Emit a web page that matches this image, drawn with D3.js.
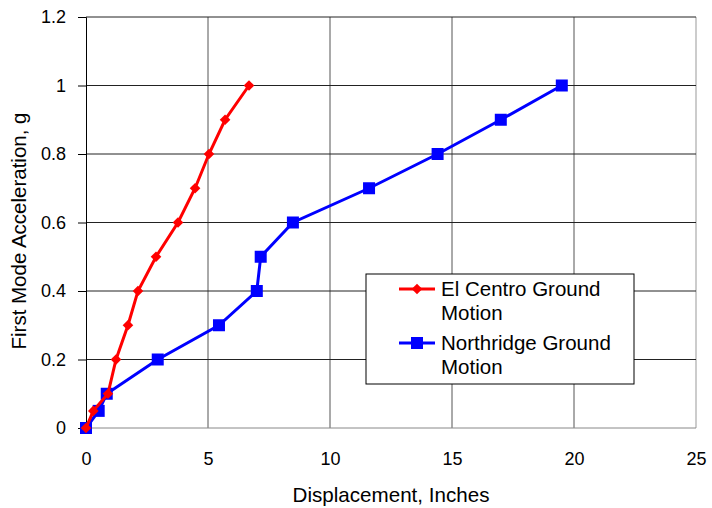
<!DOCTYPE html>
<html>
<head>
<meta charset="utf-8">
<script src="https://cdn.jsdelivr.net/npm/d3@7"></script>
<style>
  body { margin: 0; background: #fff; }
  svg { font-family: Arial, "Liberation Sans", sans-serif; }
</style>
</head>
<body>
<div id="graphContainer"></div>
<script>
// values
var elCentroDisp = [0, 0.3, 0.9, 1.23, 1.72, 2.13, 2.87, 3.77, 4.47, 5.04, 5.7, 6.68];
var elCentroAcc  = [0, 0.05, 0.1, 0.2, 0.3, 0.4, 0.5, 0.6, 0.7, 0.8, 0.9, 1.0];
var northDisp = [0, 0.52, 0.85, 2.94, 5.45, 7.0, 7.16, 8.48, 11.6, 14.41, 17.0, 19.5];
var northAcc  = [0, 0.05, 0.1, 0.2, 0.3, 0.4, 0.5, 0.6, 0.7, 0.8, 0.9, 1.0];
var xTicks = [0, 5, 10, 15, 20, 25];
var yTicks = [0, 0.2, 0.4, 0.6, 0.8, 1, 1.2];
var seriesNames = [["El Centro Ground", "Motion"], ["Northridge Ground", "Motion"]];

var width = 712, height = 508;
// plot box edges (px)
var padL = 86, padR = 696, padT = 17, padB = 428;

var svg = d3.select("#graphContainer")
    .append("svg")
    .attr("width", width)
    .attr("height", height);

var xScale = d3.scaleLinear().domain([0, 25]).range([padL, padR]);
var yScale = d3.scaleLinear().domain([0, 1.2]).range([padB, padT]);

// grid lines
svg.append("g").selectAll("line")
    .data(xTicks.slice(1))
    .join("line")
    .attr("x1", d => xScale(d)).attr("x2", d => xScale(d))
    .attr("y1", padT).attr("y2", padB)
    .attr("stroke", d => d == 25 ? "#999" : "#555")
    .attr("stroke-width", 1);

svg.append("g").selectAll("line")
    .data(yTicks)
    .join("line")
    .attr("x1", padL).attr("x2", padR)
    .attr("y1", d => yScale(d)).attr("y2", d => yScale(d))
    .attr("stroke", d => d == 0 ? "#888" : "#222")
    .attr("stroke-width", 1);

// y axis
var y = d3.axisLeft(yScale).tickValues(yTicks).tickSize(8).tickPadding(12)
    .tickFormat(d3.format("~g"));
svg.append("g")
    .attr("id", "y-axis")
    .attr("transform", `translate(${padL}, 0)`)
    .call(y);
d3.select("#y-axis").selectAll("text")
    .attr("font-size", 18).attr("font-family", "Arial").attr("fill", "#000");
d3.select("#y-axis").select(".domain").attr("stroke", "#000");

// x axis (labels only)
var x = d3.axisBottom(xScale).tickValues(xTicks).tickSize(0).tickPadding(24);
svg.append("g")
    .attr("id", "x-axis")
    .attr("transform", `translate(0, ${padB})`)
    .call(x);
d3.select("#x-axis").select(".domain").remove();
d3.select("#x-axis").selectAll("text")
    .attr("font-size", 18).attr("font-family", "Arial").attr("fill", "#000");

// axis titles
svg.append("text")
    .attr("x", 391)
    .attr("y", 502)
    .attr("text-anchor", "middle")
    .attr("font-size", 20.6)
    .text("Displacement, Inches");
svg.append("text")
    .attr("transform", "translate(26, 231) rotate(-90)")
    .attr("text-anchor", "middle")
    .attr("font-size", 20.5)
    .text("First Mode Acceleration, g");

var line = d3.line().x(d => xScale(d[0])).y(d => yScale(d[1]));

// Northridge (blue squares)
var northData = northDisp.map((d, i) => [d, northAcc[i]]);
svg.append("path")
    .datum(northData)
    .attr("d", line)
    .attr("fill", "none")
    .attr("stroke", "#0000ff")
    .attr("stroke-width", 3);
svg.append("g").selectAll("rect")
    .data(northData)
    .join("rect")
    .attr("x", d => xScale(d[0]) - 6)
    .attr("y", d => yScale(d[1]) - 6)
    .attr("width", 12).attr("height", 12)
    .attr("fill", "#0000ff");

// El Centro (red diamonds)
var elData = elCentroDisp.map((d, i) => [d, elCentroAcc[i]]);
svg.append("path")
    .datum(elData)
    .attr("d", line)
    .attr("fill", "none")
    .attr("stroke", "#ff0000")
    .attr("stroke-width", 3);
var diamond = d3.symbol().type(d3.symbolDiamond2).size(72);
svg.append("g").selectAll("path")
    .data(elData)
    .join("path")
    .attr("d", diamond)
    .attr("transform", d => `translate(${xScale(d[0])}, ${yScale(d[1])})`)
    .attr("fill", "#ff0000");

// legend
var lg = svg.append("g");
lg.append("rect")
    .attr("x", 366).attr("y", 274)
    .attr("width", 268).attr("height", 110)
    .attr("fill", "#fff")
    .attr("stroke", "#000");
var legendColors = ["#ff0000", "#0000ff"];
seriesNames.forEach(function(name, i) {
    var cy = 289 + i * 54;
    lg.append("line")
        .attr("x1", 399).attr("x2", 435)
        .attr("y1", cy).attr("y2", cy)
        .attr("stroke", legendColors[i])
        .attr("stroke-width", 3);
    if (i == 0) {
        lg.append("path")
            .attr("d", diamond)
            .attr("transform", `translate(417, ${cy})`)
            .attr("fill", legendColors[i]);
    } else {
        lg.append("rect")
            .attr("x", 411).attr("y", cy - 6)
            .attr("width", 12).attr("height", 12)
            .attr("fill", legendColors[i]);
    }
    lg.append("text")
        .attr("x", 441).attr("y", cy + 7)
        .attr("font-size", 20.5)
        .text(name[0])
        .append("tspan")
        .attr("x", 441).attr("dy", 24)
        .text(name[1]);
});
</script>
</body>
</html>
